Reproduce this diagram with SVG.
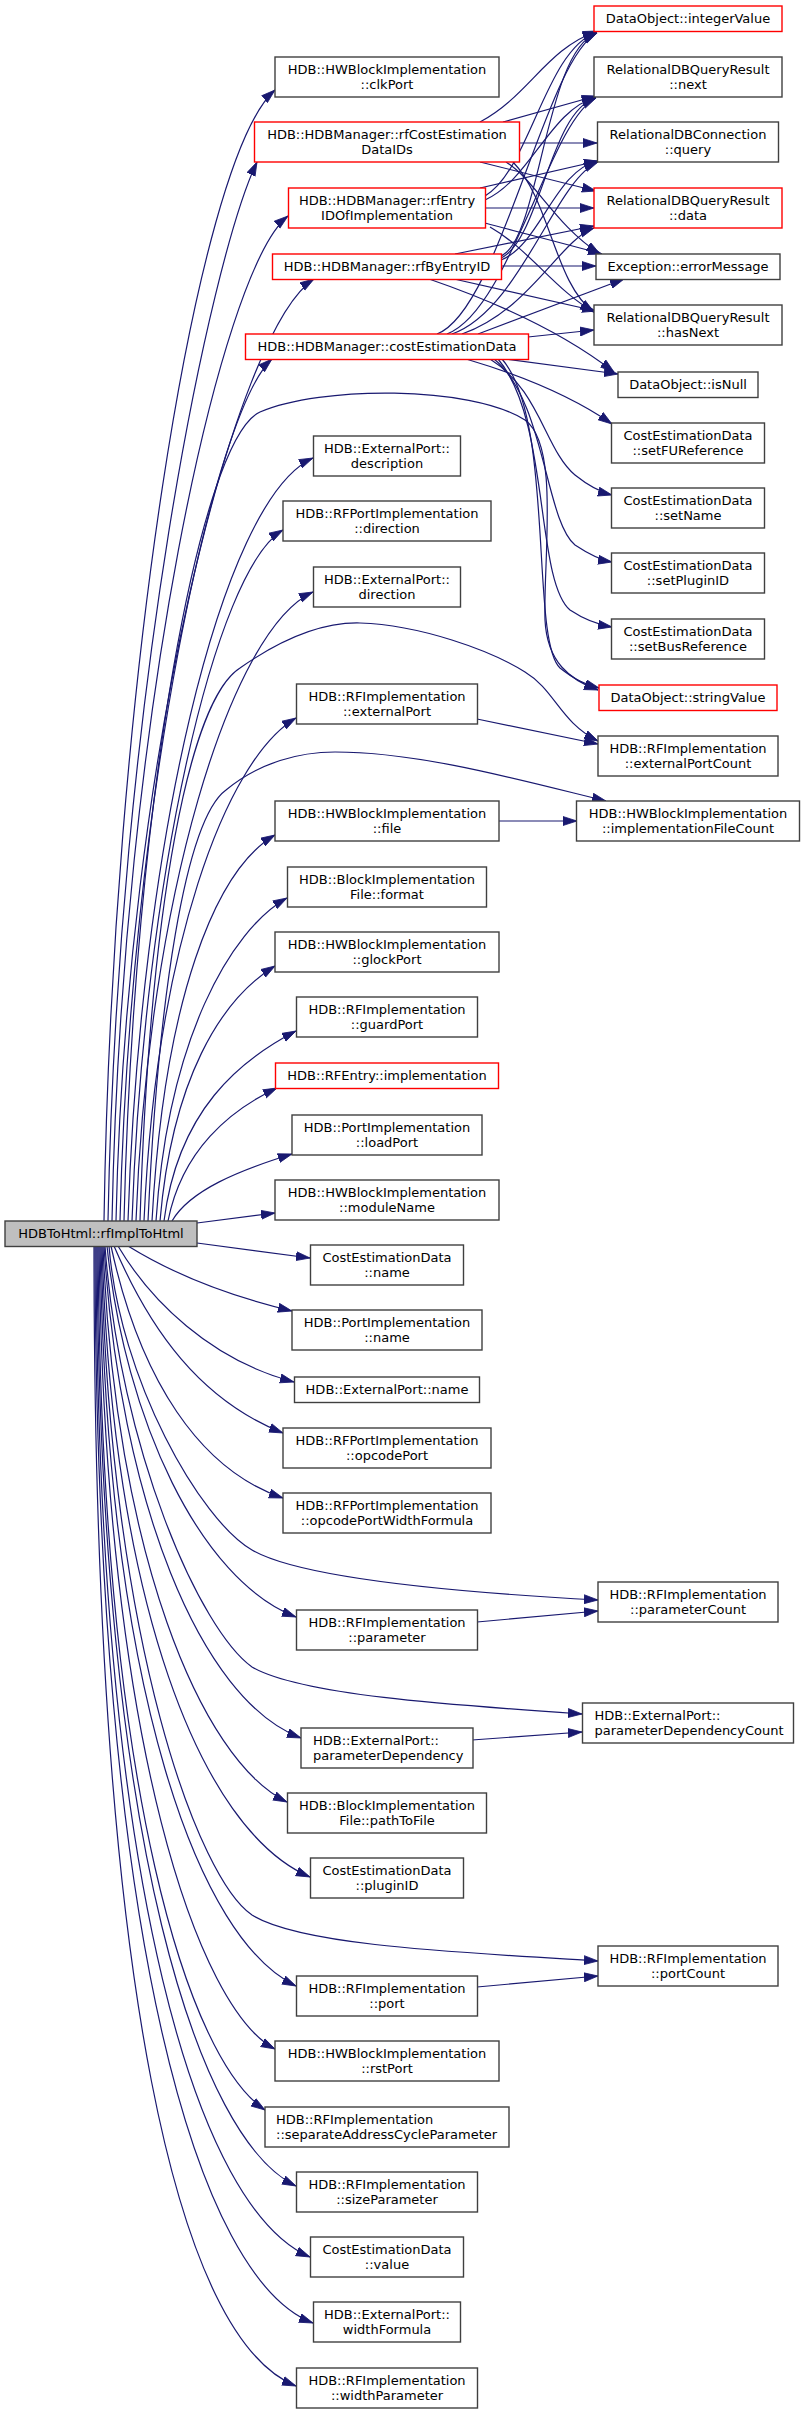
<svg xmlns="http://www.w3.org/2000/svg" width="801" height="2414" viewBox="0 0 801 2414">
<style>
.n rect{fill:#fff;stroke:#404040;stroke-width:1.4}
.n.r rect{stroke:#ff0000}
.n.root rect{fill:#bfbfbf}
text{font-family:"DejaVu Sans",sans-serif;font-size:13px;fill:#000;text-anchor:middle}
.n.l text{text-anchor:start}
#edges path{fill:none;stroke:#191970;stroke-width:1.2;marker-end:url(#arr)}
</style>
<defs>
<marker id="arr" markerUnits="userSpaceOnUse" markerWidth="15" markerHeight="11" refX="14" refY="5" orient="auto">
<path d="M0,0.5 L14,5 L0,9.5 z" fill="#191970" stroke="#191970" stroke-width="0.8"/>
</marker>
</defs>
<rect width="801" height="2414" fill="#fff"/>
<g id="edges">
<!-- root to upper targets -->
<path d="M104,1221 C112,700 195,160 275,90"/>
<path d="M108,1221 C118,700 210,260 257,162"/>
<path d="M112,1221 C122,720 220,270 288,216"/>
<path d="M116,1221 C126,760 235,330 314,279"/>
<path d="M120,1221 C130,800 215,410 272,359"/>
<path d="M124,1221 C134,800 200,440 260,412 C320,386 470,385 525,420 C560,445 543,560 545,620 C547,662 570,680 598,690"/>
<path d="M128,1221 C140,850 220,500 313,458"/>
<path d="M132,1221 C144,880 215,570 283,530"/>
<path d="M136,1221 C148,900 230,630 313,592"/>
<path d="M140,1221 C150,900 190,700 240,668 C280,640 320,622 360,623 C420,625 490,650 525,672 C555,690 560,722 598,741"/>
<path d="M144,1221 C156,950 225,760 296,718"/>
<path d="M148,1221 C158,1000 185,820 226,790 C260,762 300,752 335,752 C420,752 520,780 606,801"/>
<path d="M152,1221 C164,1000 215,870 275,835"/>
<path d="M156,1221 C168,1040 230,930 287,898"/>
<path d="M160,1221 C172,1080 220,1000 275,966"/>
<path d="M164,1221 C178,1110 240,1060 296,1031"/>
<path d="M168,1221 C182,1150 230,1110 277,1088"/>
<path d="M172,1221 C190,1190 240,1170 292,1154"/>
<path d="M197,1223 L275,1213"/>
<!-- root to lower targets -->
<path d="M197,1243 L310,1258"/>
<path d="M128,1246 C170,1272 225,1295 292,1311"/>
<path d="M118,1246 C150,1300 210,1360 294,1382"/>
<path d="M114,1246 C150,1330 200,1400 283,1433"/>
<path d="M111,1246 C140,1380 200,1470 283,1498"/>
<path d="M109,1246 C120,1380 200,1520 252,1550 C300,1578 450,1592 598,1600"/>
<path d="M107,1246 C125,1420 200,1580 296,1617"/>
<path d="M105,1246 C120,1450 200,1630 252,1667 C300,1695 450,1705 582,1714"/>
<path d="M104,1246 C120,1500 200,1700 301,1738"/>
<path d="M103,1246 C115,1550 200,1760 287,1802"/>
<path d="M102,1246 C112,1600 200,1830 310,1877"/>
<path d="M101,1246 C110,1650 200,1880 252,1915 C300,1945 450,1952 598,1961"/>
<path d="M100,1246 C108,1700 200,1940 296,1986"/>
<path d="M99,1246 C105,1750 200,2010 275,2049"/>
<path d="M98,1246 C102,1800 190,2060 265,2110"/>
<path d="M97,1246 C100,1850 200,2140 296,2186"/>
<path d="M96,1246 C98,1900 200,2210 310,2257"/>
<path d="M95,1246 C96,1950 200,2280 313,2323"/>
<path d="M94,1246 C94,2000 180,2340 296,2386"/>
<!-- rfCostEstimationDataIDs -->
<path d="M480,122 C530,95 545,50 597,31"/>
<path d="M503,122 L596,96"/>
<path d="M519,143 L597,143"/>
<path d="M480,162 L596,191"/>
<path d="M506,162 C535,180 555,225 600,254"/>
<path d="M513,162 C550,200 555,285 594,312"/>
<!-- rfEntryIDOfImplementation -->
<path d="M485,196 C530,170 545,50 597,32"/>
<path d="M485,200 C530,180 550,110 596,97"/>
<path d="M480,188 L598,161"/>
<path d="M485,208 L594,208"/>
<path d="M485,223 C530,235 570,245 602,254"/>
<path d="M490,227 C530,250 555,290 594,312"/>
<!-- rfByEntryID -->
<path d="M501,266 L596,266"/>
<path d="M455,254 L594,226"/>
<path d="M454,279 L596,311"/>
<path d="M429,279 C490,300 560,330 614,372"/>
<path d="M501,256 C540,240 545,50 597,33"/>
<path d="M501,258 C540,240 550,110 596,98"/>
<path d="M501,260 C540,245 555,170 598,161"/>
<!-- costEstimationData -->
<path d="M528,337 L594,330"/>
<path d="M478,334 L624,279"/>
<path d="M437,334 C500,310 545,60 597,33"/>
<path d="M447,334 C510,310 550,120 596,98"/>
<path d="M452,334 C520,310 555,180 598,162"/>
<path d="M462,334 C530,310 560,240 594,228"/>
<path d="M505,359 L618,374"/>
<path d="M466,359 C520,375 570,395 612,424"/>
<path d="M490,359 C540,390 545,450 575,475 C590,487 600,492 612,495"/>
<path d="M494,359 C545,400 545,520 575,545 C590,555 600,560 612,562"/>
<path d="M498,359 C550,420 535,580 570,610 C585,620 600,625 612,627"/>
<path d="M502,359 C555,420 530,640 560,668 C575,680 585,684 599,688"/>
<!-- other rank1 to rank2 -->
<path d="M477,719 L598,744"/>
<path d="M499,821 L577,821"/>
<path d="M477,1622 L598,1611"/>
<path d="M472,1740 L582,1732"/>
<path d="M477,1987 L598,1976"/>
</g>
<!-- rank 2 -->
<g id="n_integerValue" class="n r"><rect x="594" y="6" width="188" height="25.5"/><text x="688" y="23">DataObject::integerValue</text></g>
<g id="n_next" class="n"><rect x="594" y="57" width="188" height="40"/><text x="688" y="74">RelationalDBQueryResult</text><text x="688" y="88.5">::next</text></g>
<g id="n_query" class="n"><rect x="597.5" y="122" width="181" height="40"/><text x="688" y="139">RelationalDBConnection</text><text x="688" y="153.5">::query</text></g>
<g id="n_data" class="n r"><rect x="594" y="188" width="188" height="40"/><text x="688" y="205">RelationalDBQueryResult</text><text x="688" y="219.5">::data</text></g>
<g id="n_errorMessage" class="n"><rect x="596" y="254" width="184" height="25.5"/><text x="688" y="271">Exception::errorMessage</text></g>
<g id="n_hasNext" class="n"><rect x="594" y="305" width="188" height="40"/><text x="688" y="322">RelationalDBQueryResult</text><text x="688" y="336.5">::hasNext</text></g>
<g id="n_isNull" class="n"><rect x="618" y="372" width="140" height="25.5"/><text x="688" y="389">DataObject::isNull</text></g>
<g id="n_setFUReference" class="n"><rect x="611.5" y="423" width="153" height="40"/><text x="688" y="440">CostEstimationData</text><text x="688" y="454.5">::setFUReference</text></g>
<g id="n_setName" class="n"><rect x="611.5" y="488" width="153" height="40"/><text x="688" y="505">CostEstimationData</text><text x="688" y="519.5">::setName</text></g>
<g id="n_setPluginID" class="n"><rect x="611.5" y="553" width="153" height="40"/><text x="688" y="570">CostEstimationData</text><text x="688" y="584.5">::setPluginID</text></g>
<g id="n_setBusReference" class="n"><rect x="611.5" y="619" width="153" height="40"/><text x="688" y="636">CostEstimationData</text><text x="688" y="650.5">::setBusReference</text></g>
<g id="n_stringValue" class="n r"><rect x="599" y="685" width="178" height="25.5"/><text x="688" y="702">DataObject::stringValue</text></g>
<g id="n_externalPortCount" class="n"><rect x="598" y="736" width="180" height="40"/><text x="688" y="753">HDB::RFImplementation</text><text x="688" y="767.5">::externalPortCount</text></g>
<g id="n_implementationFileCount" class="n"><rect x="576.5" y="801" width="223" height="40"/><text x="688" y="818">HDB::HWBlockImplementation</text><text x="688" y="832.5">::implementationFileCount</text></g>
<g id="n_parameterCount" class="n"><rect x="598" y="1582" width="180" height="40"/><text x="688" y="1599">HDB::RFImplementation</text><text x="688" y="1613.5">::parameterCount</text></g>
<g id="n_parameterDependencyCount" class="n l"><rect x="582.5" y="1703" width="211" height="40"/><text x="594.5" y="1720">HDB::ExternalPort::</text><text x="594.5" y="1734.5">parameterDependencyCount</text></g>
<g id="n_portCount" class="n"><rect x="598" y="1946" width="180" height="40"/><text x="688" y="1963">HDB::RFImplementation</text><text x="688" y="1977.5">::portCount</text></g>
<!-- rank 1 -->
<g id="n_clkPort" class="n"><rect x="275" y="57" width="224" height="40"/><text x="387" y="74">HDB::HWBlockImplementation</text><text x="387" y="88.5">::clkPort</text></g>
<g id="n_rfCostEstimationDataIDs" class="n r"><rect x="254.5" y="122" width="265" height="40"/><text x="387" y="139">HDB::HDBManager::rfCostEstimation</text><text x="387" y="153.5">DataIDs</text></g>
<g id="n_rfEntryIDOfImplementation" class="n r"><rect x="288.5" y="188" width="197" height="40"/><text x="387" y="205">HDB::HDBManager::rfEntry</text><text x="387" y="219.5">IDOfImplementation</text></g>
<g id="n_rfByEntryID" class="n r"><rect x="272.5" y="254" width="229" height="25.5"/><text x="387" y="271">HDB::HDBManager::rfByEntryID</text></g>
<g id="n_costEstimationData" class="n r"><rect x="245.5" y="334" width="283" height="25.5"/><text x="387" y="351">HDB::HDBManager::costEstimationData</text></g>
<g id="n_ep_description" class="n"><rect x="313.5" y="436" width="147" height="40"/><text x="387" y="453">HDB::ExternalPort::</text><text x="387" y="467.5">description</text></g>
<g id="n_rfp_direction" class="n"><rect x="283" y="501" width="208" height="40"/><text x="387" y="518">HDB::RFPortImplementation</text><text x="387" y="532.5">::direction</text></g>
<g id="n_ep_direction" class="n"><rect x="313.5" y="567" width="147" height="40"/><text x="387" y="584">HDB::ExternalPort::</text><text x="387" y="598.5">direction</text></g>
<g id="n_externalPort" class="n"><rect x="296.5" y="684" width="181" height="40"/><text x="387" y="701">HDB::RFImplementation</text><text x="387" y="715.5">::externalPort</text></g>
<g id="n_file" class="n"><rect x="275" y="801" width="224" height="40"/><text x="387" y="818">HDB::HWBlockImplementation</text><text x="387" y="832.5">::file</text></g>
<g id="n_format" class="n"><rect x="287.5" y="867" width="199" height="40"/><text x="387" y="884">HDB::BlockImplementation</text><text x="387" y="898.5">File::format</text></g>
<g id="n_glockPort" class="n"><rect x="275" y="932" width="224" height="40"/><text x="387" y="949">HDB::HWBlockImplementation</text><text x="387" y="963.5">::glockPort</text></g>
<g id="n_guardPort" class="n"><rect x="296.5" y="997" width="181" height="40"/><text x="387" y="1014">HDB::RFImplementation</text><text x="387" y="1028.5">::guardPort</text></g>
<g id="n_rfentry_implementation" class="n r"><rect x="275.5" y="1063" width="223" height="25.5"/><text x="387" y="1080">HDB::RFEntry::implementation</text></g>
<g id="n_loadPort" class="n"><rect x="292" y="1115" width="190" height="40"/><text x="387" y="1132">HDB::PortImplementation</text><text x="387" y="1146.5">::loadPort</text></g>
<g id="n_moduleName" class="n"><rect x="275" y="1180" width="224" height="40"/><text x="387" y="1197">HDB::HWBlockImplementation</text><text x="387" y="1211.5">::moduleName</text></g>
<g id="n_ced_name" class="n"><rect x="310.5" y="1245" width="153" height="40"/><text x="387" y="1262">CostEstimationData</text><text x="387" y="1276.5">::name</text></g>
<g id="n_pi_name" class="n"><rect x="292" y="1310" width="190" height="40"/><text x="387" y="1327">HDB::PortImplementation</text><text x="387" y="1341.5">::name</text></g>
<g id="n_ep_name" class="n"><rect x="294.5" y="1377" width="185" height="25.5"/><text x="387" y="1394">HDB::ExternalPort::name</text></g>
<g id="n_opcodePort" class="n"><rect x="283" y="1428" width="208" height="40"/><text x="387" y="1445">HDB::RFPortImplementation</text><text x="387" y="1459.5">::opcodePort</text></g>
<g id="n_opcodePortWidthFormula" class="n"><rect x="283" y="1493" width="208" height="40"/><text x="387" y="1510">HDB::RFPortImplementation</text><text x="387" y="1524.5">::opcodePortWidthFormula</text></g>
<g id="n_parameter" class="n"><rect x="296.5" y="1610" width="181" height="40"/><text x="387" y="1627">HDB::RFImplementation</text><text x="387" y="1641.5">::parameter</text></g>
<g id="n_parameterDependency" class="n l"><rect x="301" y="1728" width="172" height="40"/><text x="313" y="1745">HDB::ExternalPort::</text><text x="313" y="1759.5">parameterDependency</text></g>
<g id="n_pathToFile" class="n"><rect x="287.5" y="1793" width="199" height="40"/><text x="387" y="1810">HDB::BlockImplementation</text><text x="387" y="1824.5">File::pathToFile</text></g>
<g id="n_pluginID" class="n"><rect x="310.5" y="1858" width="153" height="40"/><text x="387" y="1875">CostEstimationData</text><text x="387" y="1889.5">::pluginID</text></g>
<g id="n_port" class="n"><rect x="296.5" y="1976" width="181" height="40"/><text x="387" y="1993">HDB::RFImplementation</text><text x="387" y="2007.5">::port</text></g>
<g id="n_rstPort" class="n"><rect x="275" y="2041" width="224" height="40"/><text x="387" y="2058">HDB::HWBlockImplementation</text><text x="387" y="2072.5">::rstPort</text></g>
<g id="n_separateAddressCycleParameter" class="n l"><rect x="265" y="2107" width="244" height="40"/><text x="276" y="2124">HDB::RFImplementation</text><text x="276" y="2138.5">::separateAddressCycleParameter</text></g>
<g id="n_sizeParameter" class="n"><rect x="296.5" y="2172" width="181" height="40"/><text x="387" y="2189">HDB::RFImplementation</text><text x="387" y="2203.5">::sizeParameter</text></g>
<g id="n_value" class="n"><rect x="310.5" y="2237" width="153" height="40"/><text x="387" y="2254">CostEstimationData</text><text x="387" y="2268.5">::value</text></g>
<g id="n_widthFormula" class="n"><rect x="313.5" y="2302" width="147" height="40"/><text x="387" y="2319">HDB::ExternalPort::</text><text x="387" y="2333.5">widthFormula</text></g>
<g id="n_widthParameter" class="n"><rect x="296.5" y="2368" width="181" height="40"/><text x="387" y="2385">HDB::RFImplementation</text><text x="387" y="2399.5">::widthParameter</text></g>
<!-- root -->
<g id="n_root" class="n root"><rect x="5" y="1221" width="192" height="25.5"/><text x="101" y="1238">HDBToHtml::rfImplToHtml</text></g>
</svg>
